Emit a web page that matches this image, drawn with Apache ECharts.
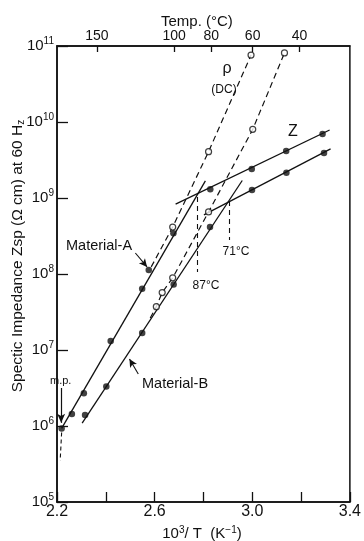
<!DOCTYPE html>
<html>
<head>
<meta charset="utf-8">
<script src="https://cdn.jsdelivr.net/npm/echarts@6/dist/echarts.min.js"></script>
<style>
  html, body { margin: 0; padding: 0; background: #fff; }
  #chart { width: 364px; height: 541px; }
</style>
</head>
<body>
<div id="chart"></div>
<script>
// Reciprocal temperature 10^3/T (K^-1) on x, specific impedance (ohm cm) on log y.
const xLabelValues = [2.2, 2.6, 3.0, 3.4];
const tempTicks = [150, 100, 80, 60, 40];          // degC marks on the top scale
const yDecades = [1e5, 1e6, 1e7, 1e8, 1e9, 1e10, 1e11];

// Material-A, 60 Hz impedance (filled dots) and its fitted line
const matA = [[2.219, 9.3e5], [2.261, 1.44e6], [2.310, 2.69e6], [2.420, 1.31e7],
              [2.549, 6.4e7], [2.576, 1.13e8], [2.677, 3.44e8]];
const matAFit = [[2.219, 9.3e5], [2.808, 1.68e9]];

// Material-B, 60 Hz impedance
const matB = [[2.315, 1.40e6], [2.402, 3.3e6], [2.549, 1.68e7], [2.678, 7.3e7], [2.827, 4.15e8]];
const matBFit = [[2.303, 1.09e6], [2.959, 1.70e9]];

// Z branches below the transition temperature
const zA = [[2.828, 1.30e9], [2.998, 2.41e9], [3.139, 4.15e9], [3.288, 6.95e9]];
const zAFit = [[2.686, 8.3e8], [3.317, 7.85e9]];
const zB = [[2.999, 1.27e9], [3.140, 2.15e9], [3.294, 3.91e9]];
const zBFit = [[2.802, 6.0e8], [3.321, 4.42e9]];

// DC resistivity (open circles, dashed)
const dcA = [[2.674, 4.15e8], [2.821, 4.07e9], [2.995, 7.6e10]];
const dcAStart = [2.586, 1.24e8];
const dcB = [[2.607, 3.72e7], [2.631, 5.7e7], [2.674, 8.9e7], [2.821, 6.55e8], [3.002, 8.0e9], [3.132, 8.1e10]];
const dcBStart = [2.582, 2.64e7];

// Break points: temperature (degC), top and bottom of the drop line
const breakTemps = [87, 71];
const breakTop = [1.03e9, 9.1e8];
const breakBottom = [1.06e8, 2.8e8];

// Melting point marker
const mpX = 2.217;
const mpArrow = [3.16e6, 1.1e6];
const mpDrop = [8.2e5, 3.5e5];

// Callout arrows: [from, to]
const arrowA = [[2.521, 1.89e8], [2.569, 1.24e8]];
const arrowB = [[2.533, 4.83e6], [2.497, 7.6e6]];

const INK = '#111';
const FONT = '"Liberation Sans", Arial, sans-serif';
const invT = t => 1000 / (t + 273.15);

const fitLine = (data) => ({
  type: 'line', data, symbol: 'none', silent: true,
  lineStyle: { color: INK, width: 1.3 }, z: 2
});
const dashLine = (data) => ({
  type: 'line', data, symbol: 'none', silent: true,
  lineStyle: { color: INK, width: 1.2, type: [6, 4] }, z: 2
});
const dots = (data) => ({
  type: 'scatter', data, symbol: 'circle', symbolSize: 6.5,
  itemStyle: { color: INK }, z: 4
});
const rings = (data) => ({
  type: 'scatter', data, symbol: 'circle', symbolSize: 6,
  itemStyle: { color: '#fff', borderColor: INK, borderWidth: 1.2 }, z: 4
});

const chart = echarts.init(document.getElementById('chart'), null, { renderer: 'canvas' });

chart.setOption({
  animation: false,
  backgroundColor: '#fff',
  textStyle: { fontFamily: FONT, color: INK },
  grid: {
    left: 57, right: 8, top: 46, bottom: 39,
    show: true, borderColor: INK, borderWidth: 1.5, backgroundColor: 'transparent'
  },
  xAxis: [
    {
      type: 'value', min: 2.2, max: 3.4, interval: 0.2, position: 'bottom',
      axisLine: { show: true, lineStyle: { color: INK, width: 1.5 } },
      axisTick: { show: true, inside: true, length: 10, lineStyle: { color: INK, width: 1.3 } },
      axisLabel: {
        customValues: xLabelValues, margin: 2, color: INK, fontSize: 16, fontFamily: FONT,
        formatter: v => v.toFixed(1)
      },
      splitLine: { show: false }
    },
    {
      type: 'value', min: 2.2, max: 3.4, position: 'top',
      axisLine: { show: true, lineStyle: { color: INK, width: 1.5 } },
      axisTick: {
        show: true, inside: true, length: 6, customValues: tempTicks.map(invT),
        lineStyle: { color: INK, width: 1.3 }
      },
      axisLabel: {
        customValues: tempTicks.map(invT), margin: 3, color: INK, fontSize: 14, fontFamily: FONT,
        formatter: v => String(Math.round(1000 / v - 273.15))
      },
      splitLine: { show: false }
    }
  ],
  yAxis: [
    {
      type: 'log', logBase: 10, min: 1e5, max: 1e11,
      axisLine: { show: true, lineStyle: { color: INK, width: 1.5 } },
      axisTick: { show: true, inside: true, length: 11, customValues: yDecades, lineStyle: { color: INK, width: 1.3 } },
      axisLabel: {
        customValues: yDecades, margin: 3, color: INK, fontFamily: FONT,
        formatter: v => '{b|10}{s|' + Math.round(Math.log10(v)) + '}',
        rich: {
          b: { fontSize: 15, fontFamily: FONT, color: INK },
          s: { fontSize: 10, fontFamily: FONT, color: INK, padding: [0, 0, 9, 0] }
        }
      },
      splitLine: { show: false },
      minorTick: { show: false }
    }
  ],
  series: [
    fitLine(matAFit),
    fitLine(matBFit),
    fitLine(zAFit),
    fitLine(zBFit),
    dashLine([dcAStart].concat(dcA)),
    dashLine([dcBStart].concat(dcB)),
    dots(matA),
    dots(matB),
    dots(zA),
    dots(zB),
    rings(dcA),
    rings(dcB),
    {
      // guide lines: break-point drops, melting point, callout arrows
      type: 'line', data: [], symbol: 'none', silent: true,
      markLine: {
        silent: true, animation: false,
        label: { show: false },
        data: [
          ...breakTemps.map((t, i) => [
            { coord: [invT(t), breakTop[i]], symbol: 'none', lineStyle: { type: [5, 4], width: 1.1, color: INK } },
            { coord: [invT(t), breakBottom[i]], symbol: 'none' }
          ]),
          [
            { coord: [mpX, mpArrow[0]], symbol: 'none', lineStyle: { type: 'solid', width: 1.2, color: INK } },
            { coord: [mpX, mpArrow[1]], symbol: 'arrow', symbolSize: [6, 9] }
          ],
          [
            { coord: [mpX + 0.002, mpDrop[0]], symbol: 'none', lineStyle: { type: [4, 3], width: 1.1, color: INK } },
            { coord: [mpX - 0.004, mpDrop[1]], symbol: 'none' }
          ],
          [
            { coord: arrowA[0], symbol: 'none', lineStyle: { type: 'solid', width: 1.1, color: INK, curveness: -0.2 } },
            { coord: arrowA[1], symbol: 'arrow', symbolSize: [6, 8] }
          ],
          [
            { coord: arrowB[0], symbol: 'none', lineStyle: { type: 'solid', width: 1.1, color: INK, curveness: 0.2 } },
            { coord: arrowB[1], symbol: 'arrow', symbolSize: [6, 8] }
          ]
        ]
      }
    }
  ],
  graphic: [
    { type: 'text', left: 161, top: 14, style: { text: 'Temp. (°C)', fontSize: 15, fontFamily: FONT, fill: INK } },
    {
      type: 'text', x: 18, y: 256, rotation: Math.PI / 2,
      style: {
        text: 'Spectic Impedance Zsp (Ω cm) at 60 H{z|z}',
        rich: { z: { fontSize: 10, fontFamily: FONT, fill: INK, padding: [7, 0, 0, 0] } },
        fontSize: 15.5, fontFamily: FONT, fill: INK, align: 'center', verticalAlign: 'middle'
      }
    },
    {
      type: 'text', x: 202, y: 534,
      style: {
        text: '10{s|3}/ T  (K{s|−1})',
        rich: { s: { fontSize: 10, fontFamily: FONT, fill: INK, padding: [0, 0, 8, 0] } },
        fontSize: 15, fontFamily: FONT, fill: INK, align: 'center', verticalAlign: 'middle'
      }
    },
    { type: 'text', x: 293, y: 132, style: { text: 'Z', fontSize: 16, fontFamily: FONT, fill: INK, align: 'center', verticalAlign: 'middle' } },
    { type: 'text', x: 227, y: 69, style: { text: 'ρ', fontSize: 16, fontFamily: FONT, fill: INK, align: 'center', verticalAlign: 'middle' } },
    { type: 'text', x: 224, y: 90, style: { text: '(DC)', fontSize: 12, fontFamily: FONT, fill: INK, align: 'center', verticalAlign: 'middle' } },
    { type: 'text', x: 66, y: 246, style: { text: 'Material-A', fontSize: 14.5, fontFamily: FONT, fill: INK, align: 'left', verticalAlign: 'middle' } },
    { type: 'text', x: 142, y: 384, style: { text: 'Material-B', fontSize: 14.5, fontFamily: FONT, fill: INK, align: 'left', verticalAlign: 'middle' } },
    { type: 'text', x: 206, y: 286, style: { text: '87°C', fontSize: 12, fontFamily: FONT, fill: INK, align: 'center', verticalAlign: 'middle' } },
    { type: 'text', x: 236, y: 252, style: { text: '71°C', fontSize: 12, fontFamily: FONT, fill: INK, align: 'center', verticalAlign: 'middle' } },
    { type: 'text', x: 50, y: 381, style: { text: 'm.p.', fontSize: 11, fontFamily: FONT, fill: INK, align: 'left', verticalAlign: 'middle' } }
  ]
});
</script>
</body>
</html>
